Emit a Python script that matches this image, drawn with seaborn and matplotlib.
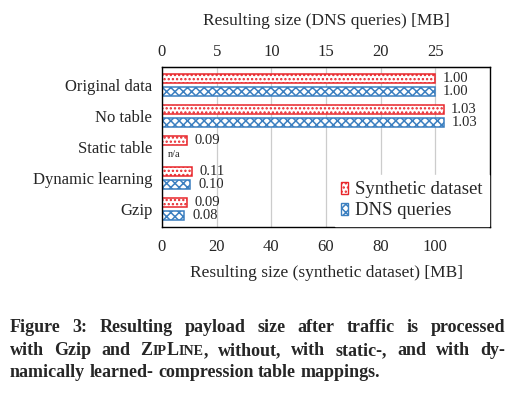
import numpy as np
import pandas as pd
import matplotlib
matplotlib.use('Agg')
import matplotlib.pyplot as plt
import seaborn as sns
from matplotlib.patches import Patch

# data (sizes in MB)
METHODS = ["Original data", "No table", "Static table", "Dynamic learning", "Gzip"]
SYNTHETIC_MB = [100.0, 103.0, 9.2, 11.1, 9.0]
DNS_MB = [25.0, 25.8, np.nan, 2.6, 2.05]   # static table: n/a
DATASETS = ["Synthetic dataset", "DNS queries"]

# top axis (DNS) is drawn on the bottom scale divided by this factor
AXIS_RATIO = 4.0

RED = '#e8262b'
BLUE = '#3b7fc0'
HATCHES = ['....', 'xxxx']
COLORS = [RED, BLUE]

SERIF = ['Liberation Serif', 'DejaVu Serif']

sns.set_style('white')
plt.rcParams['font.family'] = SERIF
plt.rcParams['hatch.linewidth'] = 1.1

rows = []
for i, m in enumerate(METHODS):
    rows.append(dict(method=m, dataset=DATASETS[0], size=SYNTHETIC_MB[i],
                     rel=SYNTHETIC_MB[i] / SYNTHETIC_MB[0], scale=1.0))
    rows.append(dict(method=m, dataset=DATASETS[1], size=DNS_MB[i],
                     rel=DNS_MB[i] / DNS_MB[0], scale=AXIS_RATIO))
df = pd.DataFrame(rows)
df['plot_mb'] = (df['size'] * df['scale']).fillna(0)

fig = plt.figure(figsize=(5.16, 3.95), dpi=100)
ax = fig.add_axes([162 / 516, 1 - 227 / 395, 328 / 516, 160 / 395])

sns.barplot(data=df, y='method', x='plot_mb', hue='dataset', order=METHODS,
            hue_order=DATASETS, orient='h', width=0.84, gap=0.32,
            ax=ax, legend=False, errorbar=None)

for k, cont in enumerate(ax.containers):
    sub = df[df['dataset'] == DATASETS[k]].set_index('method').loc[METHODS]
    for bar, rel in zip(cont, sub['rel']):
        bar.set_facecolor('white')
        bar.set_edgecolor(COLORS[k])
        bar.set_hatch(HATCHES[k])
        bar.set_linewidth(1.1)
        yc = bar.get_y() + bar.get_height() / 2
        xe = bar.get_width()
        if np.isnan(rel):
            ax.text(xe + 2.3, yc + 0.04, 'n/a', fontsize=7.5, va='center', ha='left')
        else:
            ax.text(xe + 2.8, yc, f'{rel:.2f}', fontsize=10.5, va='center', ha='left')

ax.set_xlim(0, 120)
ax.set_ylim(4.58, -0.58)
ax.set_xticks([0, 20, 40, 60, 80, 100])
ax.grid(axis='x', color='#cccccc', linewidth=0.9)
ax.set_axisbelow(True)
for s in ax.spines.values():
    s.set_color('black')
    s.set_linewidth(1.0)
ax.tick_params(axis='both', which='major', direction='out', length=4,
               color='#888888', labelsize=12, pad=3)
ax.tick_params(axis='x', pad=5)
ax.set_ylabel('')
ax.set_xlabel('Resulting size (synthetic dataset) [MB]', fontsize=12.5, labelpad=7)

top = ax.secondary_xaxis('top', functions=(lambda x: x / AXIS_RATIO,
                                           lambda x: x * AXIS_RATIO))
top.set_xticks([0, 5, 10, 15, 20, 25])
top.tick_params(direction='out', length=0, labelsize=12, pad=5)
top.set_xlabel('Resulting size (DNS queries) [MB]', fontsize=12.5, labelpad=14)

handles = [Patch(facecolor='white', edgecolor=COLORS[k], hatch=HATCHES[k])
           for k in range(2)]
leg = ax.legend(handles, DATASETS, loc='lower right', fontsize=13.5,
                frameon=True, fancybox=False, framealpha=1,
                edgecolor='white', borderaxespad=0.05, handlelength=0.33,
                handleheight=0.65, handletextpad=0.4, labelspacing=0.22,
                borderpad=0.35)

# caption, justified like the paper text
renderer = fig.canvas.get_renderer()
CAP_SIZE = 13
SC_SIZE = 10.2
LEFT_PX, RIGHT_PX = 10, 505

caption_lines = [
    (332, [[('Figure', CAP_SIZE)], [('3:', CAP_SIZE)], [('Resulting', CAP_SIZE)],
           [('payload', CAP_SIZE)], [('size', CAP_SIZE)], [('after', CAP_SIZE)],
           [('traffic', CAP_SIZE)], [('is', CAP_SIZE)], [('processed', CAP_SIZE)]], True),
    (355, [[('with', CAP_SIZE)], [('Gzip', CAP_SIZE)], [('and', CAP_SIZE)],
           [('Z', CAP_SIZE), ('IP', SC_SIZE), ('L', CAP_SIZE), ('INE', SC_SIZE), (',', CAP_SIZE)],
           [('without,', CAP_SIZE)], [('with', CAP_SIZE)], [('static-,', CAP_SIZE)],
           [('and', CAP_SIZE)], [('with', CAP_SIZE)], [('dy-', CAP_SIZE)]], True),
    (377, [[('namically', CAP_SIZE)], [('learned-', CAP_SIZE)], [('compression', CAP_SIZE)],
           [('table', CAP_SIZE)], [('mappings.', CAP_SIZE)]], False),
]


def px_width(txt, size):
    t = fig.text(0, 0, txt, fontsize=size, fontweight='bold')
    w = t.get_window_extent(renderer).width
    t.remove()
    return w


space_w = px_width('a a', CAP_SIZE) - px_width('aa', CAP_SIZE)
W, H = fig.bbox.width, fig.bbox.height

for y_px, words, justify in caption_lines:
    widths = [sum(px_width(t, s) for t, s in w) for w in words]
    if justify:
        gap = (RIGHT_PX - LEFT_PX - sum(widths)) / (len(words) - 1)
    else:
        gap = space_w
    x = LEFT_PX
    for w, ww in zip(words, widths):
        xx = x
        for t, s in w:
            fig.text(xx / W, 1 - y_px / H, t, fontsize=s, fontweight='bold',
                     ha='left', va='baseline')
            xx += px_width(t, s)
        x += ww + gap

fig.savefig('out.png', dpi=100)
plt.close(fig)
